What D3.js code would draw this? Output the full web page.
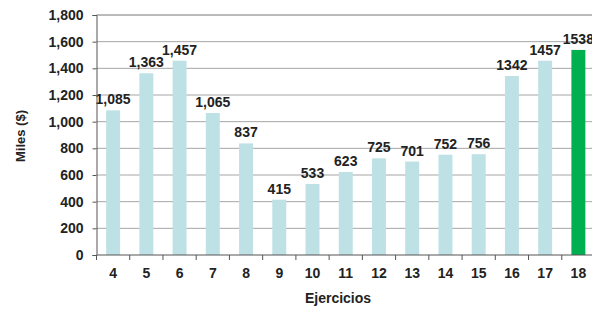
<!DOCTYPE html>
<html><head><meta charset="utf-8">
<script src="https://cdn.jsdelivr.net/npm/d3@7"></script>
<style>body{margin:0;background:#fff}svg{display:block}text{font-family:"Liberation Sans",Arial,sans-serif;font-weight:bold;fill:#222}</style>
</head><body><svg id="c" width="592" height="309"></svg>
<script>
const categories = ["4","5","6","7","8","9","10","11","12","13","14","15","16","17","18"];
const values = [1085,1363,1457,1065,837,415,533,623,725,701,752,756,1342,1457,1538];
const valueLabels = ["1,085","1,363","1,457","1,065","837","415","533","623","725","701","752","756","1342","1457","1538"];
const yTicks = [0,200,400,600,800,1000,1200,1400,1600,1800];
const highlight = "18";

const svg = d3.select("#c");
const m = {left: 96.5, top: 15, bottom: 255, right: 595};
const x = d3.scaleBand().domain(categories).range([m.left, m.right]).paddingInner(0.58).paddingOuter(0.29);
const y = d3.scaleLinear().domain([0,1800]).range([m.bottom, m.top]);
const fmt = d3.format(",");

// gridlines
svg.append("g").selectAll("line").data(yTicks.filter(d=>d>0)).join("line")
  .attr("x1", m.left).attr("x2", 592).attr("y1", d=>y(d)).attr("y2", d=>y(d))
  .attr("stroke", d=> d===1800 ? "#777" : "#a6a6a6").attr("stroke-width", 1);

// bars
svg.append("g").selectAll("rect").data(categories).join("rect")
  .attr("x", d=>x(d)).attr("width", x.bandwidth())
  .attr("y", (d,i)=>y(values[i])).attr("height", (d,i)=>y(0)-y(values[i]))
  .attr("fill", d=> d===highlight ? "#00b050" : "#bde1e4");

// value labels
svg.append("g").selectAll("text").data(categories).join("text")
  .attr("x", d=>x(d)+x.bandwidth()/2).attr("y", (d,i)=>y(values[i])-6)
  .attr("text-anchor","middle").attr("font-size", 14).text((d,i)=>valueLabels[i]);

// y axis
const ya = svg.append("g").attr("transform", `translate(${m.left},0)`)
  .call(d3.axisLeft(y).tickValues(yTicks).tickFormat(fmt).tickSize(4).tickPadding(9));
ya.select(".domain").attr("stroke","#555");
ya.selectAll(".tick line").attr("stroke","#555");
ya.selectAll("text").attr("font-size",14).attr("font-family","Liberation Sans, Arial, sans-serif").attr("font-weight","bold").attr("fill","#222");

// x axis
const xTickScale = d3.scalePoint().domain(d3.range(categories.length+1)).range([m.left, m.right]);
const xa = svg.append("g").attr("transform", `translate(0,${m.bottom})`);
xa.append("line").attr("x1", m.left).attr("x2", 592).attr("stroke","#555");
xa.selectAll("line.t").data(d3.range(categories.length+1)).join("line").attr("class","t")
  .attr("x1", d=>xTickScale(d)).attr("x2", d=>xTickScale(d)).attr("y1",0).attr("y2",5).attr("stroke","#555");
xa.selectAll("text").data(categories).join("text")
  .attr("x", d=>x(d)+x.bandwidth()/2).attr("y", 23).attr("text-anchor","middle").attr("font-size",14).text(d=>d);

// axis titles
svg.append("text").attr("x", 338).attr("y", 303).attr("text-anchor","middle").attr("font-size",14).text("Ejercicios");
svg.append("text").attr("transform","translate(25,136) rotate(-90)").attr("text-anchor","middle").attr("font-size",13).text("Miles ($)");
</script></body></html>
